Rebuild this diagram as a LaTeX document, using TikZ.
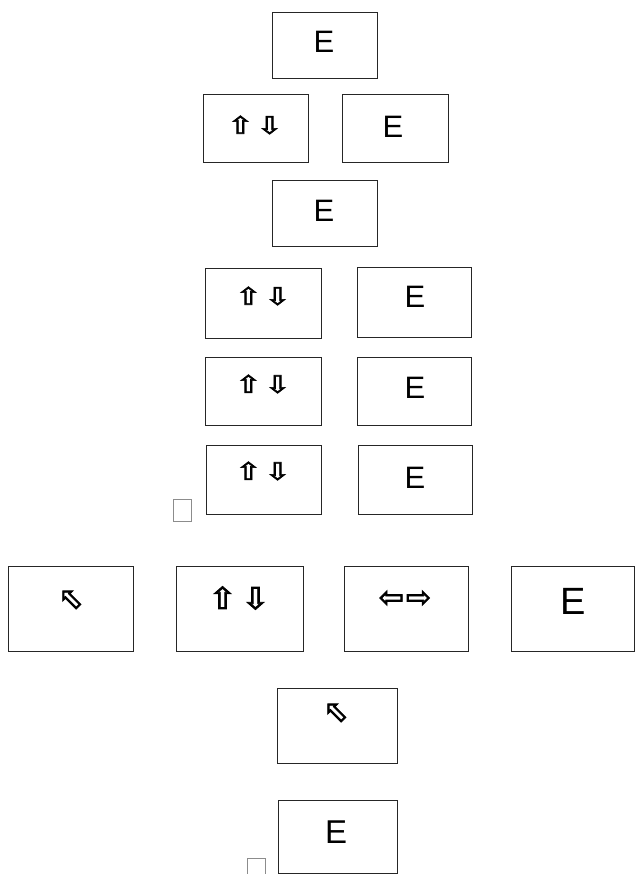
\documentclass[tikz,border=0pt]{standalone}
\usepackage{fontspec}
\setmainfont{Liberation Sans}
\newfontfamily\symfont[FakeBold=2.4]{DejaVu Sans}
\newcommand{\wide}[1]{\scalebox{1.3}[1]{#1}}
\begin{document}
\begin{tikzpicture}[x=1pt,y=-1pt,
  box/.style={draw=black!85,line width=0.9pt},
  sq/.style={draw=black!45,line width=0.7pt},
  letterE/.style={font=\fontsize{31}{31}\selectfont,inner sep=0pt,anchor=center},
  bigE/.style={font=\fontsize{38}{38}\selectfont,inner sep=0pt,anchor=center},
  arr/.style={font=\symfont\fontsize{24}{24}\selectfont,inner sep=0pt,anchor=center},
  bigarr/.style={font=\symfont\fontsize{30}{30}\selectfont,inner sep=0pt,anchor=center}]
\useasboundingbox (0,0) rectangle (635,874);
% row 1
\draw[box] (272,12) rectangle (377,78);
\node[letterE] (e1) at (324,42) {E};
% row 2
\draw[box] (203,94) rectangle (308,162);
\node[arr] (a2) at (255,125) {\wide{⇧}\hspace{3pt}\wide{⇩}};
\draw[box] (342,94) rectangle (448,162);
\node[letterE] (e2) at (393,127) {E};
% row 3
\draw[box] (272,180) rectangle (377,246);
\node[letterE] (e3) at (324,211) {E};
% row 4
\draw[box] (205,268) rectangle (321,338);
\node[arr] (a4) at (263,296) {\wide{⇧}\hspace{3pt}\wide{⇩}};
\draw[box] (357,267) rectangle (471,337);
\node[letterE] (e4) at (415,297) {E};
% row 5
\draw[box] (205,357) rectangle (321,425);
\node[arr] (a5) at (263,384) {\wide{⇧}\hspace{3pt}\wide{⇩}};
\draw[box] (357,357) rectangle (471,425);
\node[letterE] (e5) at (415,388) {E};
% row 6
\draw[box] (206,445) rectangle (321,514);
\node[arr] (a6) at (263,471) {\wide{⇧}\hspace{3pt}\wide{⇩}};
\draw[box] (358,445) rectangle (472,514);
\node[letterE] (e6) at (415,478) {E};
\draw[sq] (173,499) rectangle (191,521);
% row 7
\draw[box] (8,566) rectangle (133,651);
\node[bigarr] (a7a) at (71,600) {⬁};
\draw[box] (176,566) rectangle (303,651);
\node[bigarr] (a7b) at (239,598) {\scalebox{1.15}[1]{⇧}\hspace{4pt}\scalebox{1.15}[1]{⇩}};
\draw[box] (344,566) rectangle (468,651);
\node[bigarr] (a7c) at (405,599) {⇦\hspace{2pt}⇨};
\draw[box] (511,566) rectangle (634,651);
\node[bigE] (e7) at (573,601) {E};
% row 8
\draw[box] (277,688) rectangle (397,763);
\node[bigarr] (a8) at (336,713) {⬁};
% row 9
\draw[box] (278,800) rectangle (397,873);
\node[letterE,font=\fontsize{33}{33}\selectfont] (e9) at (336,832) {E};
\draw[sq] (247,858) rectangle (265,876);
\end{tikzpicture}
\end{document}
